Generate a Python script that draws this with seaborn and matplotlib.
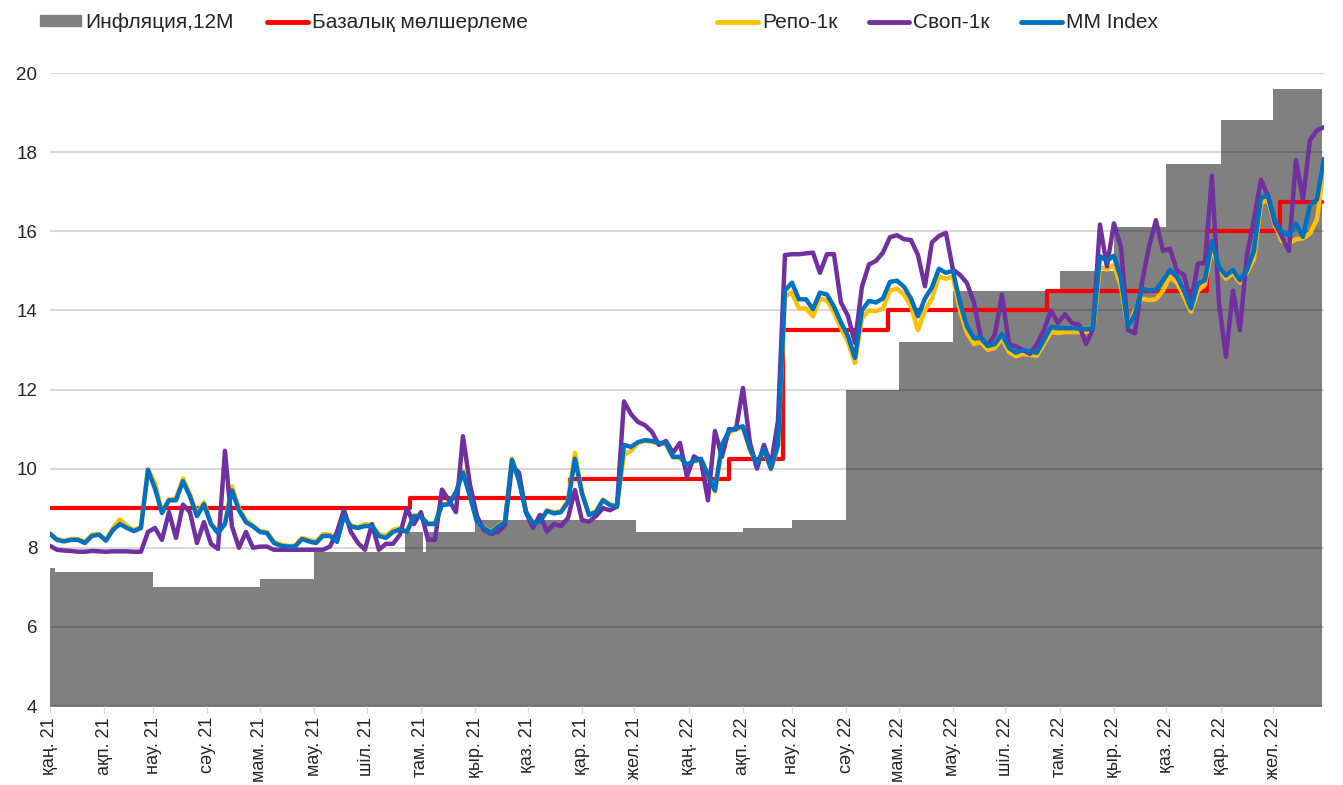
import pandas as pd
import matplotlib.pyplot as plt
import seaborn as sns
from matplotlib import font_manager
from matplotlib.patches import Patch
from matplotlib.lines import Line2D

sns.set_theme(style='white')
plt.rcParams['font.family'] = ['Liberation Sans', 'DejaVu Sans']
plt.rcParams['lines.solid_joinstyle'] = 'round'
plt.rcParams['lines.solid_capstyle'] = 'round'
fonts = {f.name for f in font_manager.fontManager.ttflist}

# ставкалар, 4 күн сайын
dates = pd.date_range('2021-01-01', periods=183, freq='4D')

mm_index = [8.35, 8.2, 8.16, 8.2, 8.2, 8.12, 8.3, 8.33, 8.18, 8.45,
            8.6, 8.5, 8.42, 8.5, 9.97, 9.5, 8.88, 9.2, 9.2, 9.68,
            9.3, 8.8, 9.1, 8.6, 8.37, 8.6, 9.45, 8.95, 8.65, 8.54,
            8.4, 8.37, 8.12, 8.05, 8.03, 8.03, 8.22, 8.16, 8.12, 8.3,
            8.3, 8.15, 8.8, 8.54, 8.5, 8.55, 8.55, 8.3, 8.25, 8.4,
            8.46, 8.4, 8.8, 8.78, 8.6, 8.6, 9.08, 9.1, 9.4, 9.9,
            9.3, 8.65, 8.5, 8.38, 8.53, 8.65, 10.22, 9.7, 8.9, 8.62,
            8.66, 8.93, 8.87, 8.9, 9.15, 10.25, 9.38, 8.83, 8.9, 9.2,
            9.08, 9.04, 10.6, 10.55, 10.67, 10.72, 10.7, 10.65, 10.65, 10.3,
            10.3, 10.1, 10.2, 10.25, 9.85, 9.45, 10.6, 10.95, 11.03, 11.07,
            10.5, 10.12, 10.5, 10.0, 10.6, 14.5, 14.7, 14.28, 14.28, 14.03,
            14.45, 14.4, 14.1, 13.7, 13.35, 12.8, 14.0, 14.24, 14.2, 14.3,
            14.72, 14.75, 14.6, 14.3, 13.85, 14.3, 14.58, 15.05, 14.95, 15.0,
            14.2, 13.6, 13.3, 13.32, 13.1, 13.15, 13.4, 13.05, 12.93, 13.0,
            12.96, 12.93, 13.25, 13.58, 13.56, 13.55, 13.55, 13.54, 13.52, 13.53,
            15.37, 15.25, 15.38, 14.8, 13.58, 13.9, 14.55, 14.5, 14.52, 14.75,
            15.02, 14.85, 14.5, 14.05, 14.68, 14.76, 15.75, 15.1, 14.88, 15.02,
            14.76, 15.02, 15.5, 16.85, 16.9, 16.28, 15.98, 15.9, 16.2, 15.86,
            16.66, 16.8, 17.83]

repo = [8.37, 8.22, 8.18, 8.22, 8.22, 8.15, 8.33, 8.35, 8.2, 8.5,
        8.72, 8.55, 8.45, 8.52, 9.97, 9.65, 8.9, 9.22, 9.25, 9.75,
        9.35, 8.85, 9.15, 8.62, 8.4, 8.62, 9.55, 9.0, 8.7, 8.56,
        8.42, 8.4, 8.15, 8.08, 8.05, 8.05, 8.25, 8.2, 8.15, 8.35,
        8.33, 8.2, 8.82, 8.56, 8.52, 8.6, 8.58, 8.35, 8.3, 8.45,
        8.5, 8.42, 8.82, 8.8, 8.62, 8.62, 9.1, 9.12, 9.42, 9.95,
        9.32, 8.68, 8.52, 8.4, 8.55, 8.68, 10.25, 9.72, 8.92, 8.65,
        8.68, 8.95, 8.9, 8.92, 9.2, 10.4, 9.4, 8.85, 8.92, 9.22,
        9.1, 9.06, 10.35, 10.45, 10.65, 10.7, 10.68, 10.63, 10.62, 10.28,
        10.28, 10.08, 10.18, 10.22, 9.82, 9.42, 10.55, 10.9, 11.0, 11.03,
        10.47, 10.1, 10.47, 9.98, 10.55, 14.35, 14.45, 14.05, 14.05, 13.85,
        14.3, 14.25, 13.95, 13.55, 13.2, 12.67, 13.8, 14.0, 13.98, 14.05,
        14.5, 14.55, 14.4, 14.1, 13.5, 14.0, 14.3, 14.86, 14.8, 14.85,
        14.0, 13.43, 13.15, 13.2, 13.0, 13.05, 13.3, 12.95, 12.84, 12.9,
        12.88, 12.85, 13.15, 13.45, 13.43, 13.45, 13.45, 13.45, 13.45, 13.48,
        15.1, 15.03, 15.15, 14.6, 13.55, 14.0, 14.3, 14.26, 14.28, 14.5,
        14.85, 14.7, 14.35, 13.97, 14.5, 14.65, 15.6, 15.05, 14.8, 14.95,
        14.7, 14.95, 15.3, 16.7, 16.8, 16.15, 15.75, 15.69, 15.8, 15.82,
        15.94, 16.3, 17.62]

swap = [8.05, 7.95, 7.93, 7.92, 7.9, 7.9, 7.92, 7.91, 7.9, 7.91,
        7.91, 7.91, 7.9, 7.9, 8.4, 8.5, 8.2, 8.9, 8.25, 9.09,
        8.9, 8.12, 8.65, 8.1, 7.97, 10.45, 8.54, 8.0, 8.4, 8.0,
        8.03, 8.03, 7.95, 7.95, 7.95, 7.95, 7.95, 7.95, 7.95, 7.95,
        8.03, 8.4, 8.96, 8.4, 8.12, 7.95, 8.6, 7.95, 8.1, 8.1,
        8.33, 9.0, 8.6, 8.9, 8.2, 8.2, 9.47, 9.2, 8.9, 10.82,
        9.6, 8.8, 8.45, 8.35, 8.4, 8.57, 10.06, 9.9, 8.9, 8.5,
        8.83, 8.41, 8.6, 8.55, 8.75, 9.46, 8.7, 8.66, 8.8, 9.0,
        8.95, 9.04, 11.7, 11.38, 11.18, 11.1, 10.93, 10.6, 10.7, 10.4,
        10.65, 9.8, 10.31, 10.2, 9.2, 10.95, 10.3, 11.0, 10.99, 12.04,
        10.65, 10.0, 10.6, 10.1, 11.2, 15.4, 15.42, 15.42, 15.44, 15.46,
        14.95, 15.42, 15.42, 14.2, 13.86, 13.18, 14.6, 15.16, 15.25, 15.46,
        15.85, 15.9, 15.8, 15.78, 15.4, 14.61, 15.72, 15.88, 15.96, 15.03,
        14.9, 14.69, 14.2, 13.3, 13.1, 13.4, 14.4, 13.15, 13.09, 13.0,
        12.9, 13.15, 13.5, 14.0, 13.68, 13.9, 13.68, 13.64, 13.15, 13.51,
        16.17, 15.11, 16.2, 15.6, 13.51, 13.42, 14.7, 15.6, 16.28, 15.5,
        15.56, 15.0, 14.9, 14.2, 15.18, 15.2, 17.4, 14.2, 12.83, 14.5,
        13.5, 15.4, 16.3, 17.3, 16.9, 16.2, 15.86, 15.5, 17.8, 16.8,
        18.3, 18.55, 18.63]

base_dates = ['2021-01-01', '2021-07-26', '2021-10-25', '2022-01-24', '2022-02-24',
              '2022-04-25', '2022-07-25', '2022-10-24', '2022-12-05', '2022-12-29']
base_rate = [9.0, 9.25, 9.75, 10.25, 13.5, 14.0, 14.5, 16.0, 16.75, 16.75]

infl_dates = ['2021-01-01', '2021-01-04', '2021-03-01', '2021-05-01', '2021-06-01',
              '2021-07-23', '2021-08-02', '2021-08-04', '2021-09-01', '2021-12-02',
              '2022-02-01', '2022-03-01', '2022-04-01', '2022-05-01', '2022-06-01',
              '2022-08-01', '2022-09-01', '2022-10-01', '2022-11-01', '2022-12-01',
              '2022-12-29']
inflation = [7.5, 7.4, 7.0, 7.2, 7.9, 8.4, 7.9, 8.4, 8.7, 8.4,
             8.5, 8.7, 12.0, 13.2, 14.5, 15.0, 16.1, 17.7, 18.8, 19.6, 19.6]

month_labels = ['қаң. 21', 'ақп. 21', 'нау. 21', 'сәу. 21', 'мам. 21', 'мау. 21',
                'шіл. 21', 'там. 21', 'қыр. 21', 'қаз. 21', 'қар. 21', 'жел. 21',
                'қаң. 22', 'ақп. 22', 'нау. 22', 'сәу. 22', 'мам. 22', 'мау. 22',
                'шіл. 22', 'там. 22', 'қыр. 22', 'қаз. 22', 'қар. 22', 'жел. 22']

c_infl, c_base, c_repo, c_swap, c_mm = '#808080', '#FF0000', '#FFC000', '#7030A0', '#0070C0'

df = pd.DataFrame({'date': dates, 'repo': repo, 'swap': swap, 'mm': mm_index})

fig = plt.figure(figsize=(13.43, 7.85), dpi=100)
ax = fig.add_axes([0.0372, 0.1006, 0.9486, 0.8064])

ax.fill_between(pd.to_datetime(infl_dates), 0, inflation, step='post',
                color=c_infl, lw=0, zorder=1)
sns.lineplot(x=pd.to_datetime(base_dates), y=base_rate, ax=ax, color=c_base,
             lw=3, drawstyle='steps-post', zorder=3)
sns.lineplot(data=df, x='date', y='repo', ax=ax, color=c_repo, lw=3.2, zorder=4)
sns.lineplot(data=df, x='date', y='swap', ax=ax, color=c_swap, lw=3.2, zorder=5)
sns.lineplot(data=df, x='date', y='mm', ax=ax, color=c_mm, lw=3.2, zorder=6)

ax.set_xlim(pd.Timestamp('2021-01-01'), pd.Timestamp('2022-12-30'))
ax.set_ylim(4, 20)
ax.set_yticks(range(4, 21, 2))
ax.set_xticks(pd.date_range('2021-01-01', '2022-12-01', freq='MS'))
ax.set_xticklabels(month_labels, rotation=90, fontsize=13)
ax.tick_params(axis='x', length=5, width=1, color='#d9d9d9', pad=3, bottom=True)
ax.tick_params(axis='y', length=0, pad=9, labelsize=13.5)
ax.grid(axis='y', color='black', alpha=0.15, lw=1.5)
ax.set_axisbelow('line')
for s in ax.spines.values():
    s.set_visible(False)
ax.set_xlabel('')
ax.set_ylabel('')

# легенда
if 'Liberation Sans Narrow' in fonts:
    leg_font = {'family': 'Liberation Sans Narrow', 'size': 17.5}
    hlen = 1.6
else:
    leg_font = {'family': 'Liberation Sans', 'size': 15}
    hlen = 1.95

h1 = [Patch(color=c_infl), Line2D([], [], color=c_base, lw=3.5)]
h2 = [Line2D([], [], color=c, lw=3.5) for c in (c_repo, c_swap, c_mm)]
common = dict(loc='center left', frameon=False, prop=leg_font, handlelength=hlen,
              handleheight=0.45, handletextpad=0.2, borderpad=0, borderaxespad=0)
fig.legend(h1, ['Инфляция,12M', 'Базалық мөлшерлеме'], ncol=2,
           bbox_to_anchor=(0.030, 0.971), columnspacing=1.6, **common)
fig.legend(h2, ['Репо-1к', 'Своп-1к', 'MM Index'], ncol=3,
           bbox_to_anchor=(0.534, 0.971), columnspacing=1.5, **common)

fig.savefig('out.png', dpi=100)
